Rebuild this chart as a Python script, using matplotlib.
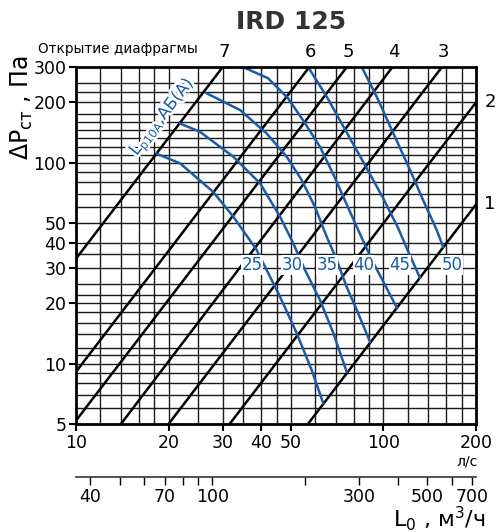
import matplotlib
matplotlib.use("Agg")
import matplotlib.pyplot as plt
import matplotlib.patheffects as pe
from matplotlib.ticker import NullLocator

# diaphragm opening lines (straight in log-log), start / end points
line_names = ["1", "2", "3", "4", "5", "6", "7"]
line_start_L = [56.8, 31.6, 20, 14, 10, 10, 10]
line_start_p = [5, 5, 5, 5, 5.2, 9.1, 33.3]
line_end_L = [200, 200, 155, 107, 76, 57.4, 30]
line_end_p = [62, 200, 300, 300, 300, 300, 300]

# sound level curves Lp10A
curve_names = ["25", "30", "35", "40", "45", "50"]
c25_L = [18.3, 21.8, 27.9, 32.5, 38.7, 46.1, 52.2, 58.4, 63.7]
c25_p = [111, 99.4, 71.8, 53.9, 36.8, 21.5, 14.2, 9.3, 6.34]
c30_L = [21.8, 25.3, 32.5, 39.7, 46.1, 50.9, 55.6, 62.2, 68.7, 75.9]
c30_p = [157, 142.8, 107.2, 79.0, 53.9, 39.7, 29.2, 20.7, 14.2, 9.11]
c35_L = [26.6, 34.2, 41.7, 48.5, 54.2, 59.9, 65.4, 70.5, 75.9, 81.9, 90.4]
c35_p = [222, 183, 140, 107, 82.1, 60.2, 42.8, 32.8, 24.1, 18.5, 12.85]
c40_L = [34.9, 42.1, 48.9, 55.2, 62.2, 69.1, 75.6, 83.9, 92.5, 101.2, 110.7]
c40_p = [300, 264, 210, 160, 120, 86, 63, 44.2, 32, 24.6, 18.9]
c45_L = [56.9, 65.5, 76.1, 87.1, 99.7, 111.5, 122.5, 131.5]
c45_p = [300, 212.6, 140.7, 97.4, 66.8, 47.5, 34.0, 26.7]
c50_L = [85.0, 95.1, 107.7, 122.1, 134.5, 149.1, 156.3]
c50_p = [300, 213.3, 140.2, 92.0, 65.3, 46.2, 38.1]
curves_L = [c25_L, c30_L, c35_L, c40_L, c45_L, c50_L]
curves_p = [c25_p, c30_p, c35_p, c40_p, c45_p, c50_p]
label_L = [37.4, 50.4, 65.5, 86.5, 113, 167]
label_p = 31

x_ticks = [10, 20, 30, 40, 50, 100, 200]
y_ticks = [5, 10, 20, 30, 40, 50, 100, 200, 300]
x_grid = [12, 14, 16, 18, 20, 25, 30, 35, 40, 45, 50, 60, 70, 80, 90, 100,
          120, 140, 160, 180]
y_grid = [6, 7, 8, 9, 10, 11, 12, 14, 16, 18, 20, 22, 25, 30, 35, 40, 50, 60,
          70, 80, 90, 100, 110, 120, 133, 146, 160, 175, 200, 225, 250]
m3h_ticks = [40, 50, 60, 70, 80, 90, 100, 200, 300, 400, 500, 600, 700]
m3h_labels = ["40", "", "", "70", "", "", "100", "", "300", "", "500", "", "700"]

blue = "#1a5ca8"

fig = plt.figure(figsize=(5, 5.32), dpi=100)
ax = fig.add_axes([0.152, 0.203, 0.8, 0.671])
ax.set_xscale("log")
ax.set_yscale("log")
ax.set_xlim(10, 200)
ax.set_ylim(5, 300)

for v in x_grid:
    ax.axvline(v, color="#1a1a1a", lw=1.0, zorder=1)
for v in y_grid:
    ax.axhline(v, color="#1a1a1a", lw=1.0, zorder=1)

for i in range(len(line_names)):
    ax.plot([line_start_L[i], line_end_L[i]], [line_start_p[i], line_end_p[i]],
            color="black", lw=1.8, zorder=3, solid_capstyle="butt")
    if line_end_p[i] >= 300:
        ax.annotate(line_names[i], (line_end_L[i], 300), xytext=(1, 11),
                    textcoords="offset points", ha="center", va="center",
                    fontsize=13, annotation_clip=False)
    else:
        ax.annotate(line_names[i], (200, line_end_p[i]), xytext=(10, 0),
                    textcoords="offset points", ha="center", va="center",
                    fontsize=13, annotation_clip=False)

for i in range(len(curve_names)):
    ax.plot(curves_L[i], curves_p[i], color=blue, lw=1.8, zorder=4,
            solid_joinstyle="round")
    ax.text(label_L[i], label_p, curve_names[i], color=blue, fontsize=12,
            ha="center", va="center", zorder=5,
            bbox=dict(facecolor="white", edgecolor="none", pad=0.5))

ax.text(19.05, 169, "L$_{\\mathregular{p10A}}$,АБ(А)", color=blue, fontsize=12,
        rotation=52, rotation_mode="anchor", ha="center", va="center", zorder=5,
        path_effects=[pe.withStroke(linewidth=4, foreground="white")])

ax.set_xticks(x_ticks, [str(t) for t in x_ticks])
ax.set_yticks(y_ticks, [str(t) for t in y_ticks])
ax.xaxis.set_minor_locator(NullLocator())
ax.yaxis.set_minor_locator(NullLocator())
ax.tick_params(direction="out", length=5, width=1.5, labelsize=12.5, pad=2)
for s in ax.spines.values():
    s.set_linewidth(2)
    s.set_zorder(6)

sec = ax.secondary_xaxis(-0.148, functions=(lambda x: x * 3.6, lambda x: x / 3.6))
sec.set_xticks(m3h_ticks, m3h_labels)
sec.xaxis.set_minor_locator(NullLocator())
sec.tick_params(direction="out", length=6, width=1, labelsize=12.5, pad=2)
sec.spines["bottom"].set_linewidth(1.2)
sec.spines["bottom"].set_color("#333333")

fig.text(0.582, 0.959, "IRD 125", fontsize=18, fontweight="bold",
         color="#333333", ha="center", va="center")
fig.text(0.076, 0.908, "Открытие диафрагмы", fontsize=9.8, ha="left", va="center")
fig.text(0.044, 0.797, "ΔP$_{\\mathregular{ст}}$ , Па", fontsize=17,
         rotation=90, ha="center", va="center")
fig.text(0.934, 0.133, "л/с", fontsize=10, ha="center", va="center")
fig.text(0.97, 0.025, "L$_0$ , м$^3$/ч", fontsize=16, ha="right", va="center")

fig.savefig("out.png", dpi=100)
